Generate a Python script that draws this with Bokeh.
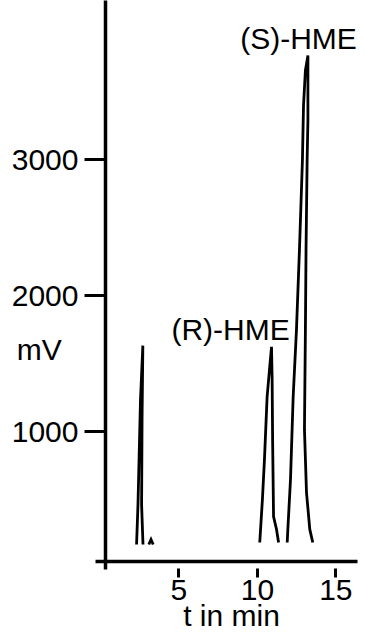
from bokeh.plotting import figure
from bokeh.models import Range1d, FixedTicker, Label, LinearAxis
from bokeh.embed import file_html
from bokeh.resources import INLINE

# Chromatogram traces: retention time (min) and detector signal (mV)
solvent_t = [2.30, 2.39, 2.55, 2.70, 2.65, 2.62, 2.71]
solvent_mv = [168, 462, 1233, 1631, 1086, 462, 168]

blip_t = [3.08, 3.22, 3.36]
blip_mv = [168, 205, 168]

r_hme_t = [10.15, 10.32, 10.45, 10.62, 10.77, 10.90, 10.94, 10.97, 11.03, 11.22, 11.35]
r_hme_mv = [183, 499, 792, 1255, 1453, 1622, 1380, 939, 374, 279, 183]

s_hme_t = [11.90, 11.94, 12.11, 12.28, 12.49, 12.68, 12.87, 12.94, 13.06, 13.22,
           13.22, 13.17, 13.10, 13.06, 13.00, 13.13, 13.34, 13.53]
s_hme_mv = [183, 279, 645, 1255, 1747, 2334, 2995, 3399, 3656, 3766,
            3289, 2995, 2334, 1747, 1013, 550, 279, 183]

x_ticks = [5, 10, 15]
y_ticks = [1000, 2000, 3000]
peak_names = ["(R)-HME", "(S)-HME"]
x_title = "t in min"
y_title = "mV"
y_title_at = 1600

FONT = "Liberation Sans"
SIZE = "30px"

x_lo, x_hi = 0.32, 16.38
y_lo, y_hi = 43, 4170

p = figure(width=366, height=634, output_backend="svg", toolbar_location=None,
           x_range=Range1d(x_lo, x_hi), y_range=Range1d(y_lo, y_hi),
           min_border_left=105, min_border_right=9, min_border_top=0,
           min_border_bottom=72)
p.background_fill_color = "white"
p.border_fill_color = "white"
p.outline_line_color = None
p.grid.visible = False

# time axis: detached ticks, plus a short stub where the signal axis crosses
xa = p.xaxis[0]
xa.ticker = FixedTicker(ticks=x_ticks, minor_ticks=[x_lo + 0.01])
xa.axis_line_width = 3.5
xa.axis_line_color = "black"
xa.major_tick_line_width = 3
xa.major_tick_in = -7
xa.major_tick_out = 16
xa.minor_tick_in = 0
xa.minor_tick_out = 8
xa.minor_tick_line_width = 3.5
xa.major_label_text_font = FONT
xa.major_label_text_font_size = SIZE
xa.major_label_text_color = "black"
xa.major_label_standoff = 2
xa.axis_label = x_title
xa.axis_label_text_font = FONT
xa.axis_label_text_font_size = SIZE
xa.axis_label_text_font_style = "normal"
xa.axis_label_text_color = "black"
xa.axis_label_standoff = -4

# signal axis: line and ticks only
ya = p.yaxis[0]
ya.ticker = FixedTicker(ticks=y_ticks, minor_ticks=[y_lo + 1])
ya.axis_line_width = 3.5
ya.axis_line_color = "black"
ya.major_tick_line_width = 3
ya.major_tick_in = 0
ya.major_tick_out = 21
ya.minor_tick_in = 0
ya.minor_tick_out = 10
ya.minor_tick_line_width = 3.5
ya.major_label_overrides = {v: "" for v in y_ticks}
ya.major_label_text_font_size = "0px"
ya.major_label_standoff = 0

# signal axis labels, including the unit beside the scale
labels_axis = LinearAxis(
    ticker=FixedTicker(ticks=y_ticks + [y_title_at]),
    major_label_overrides={y_title_at: y_title + "\u00a0\u00a0"},
    axis_line_color=None, major_tick_line_color=None, minor_tick_line_color=None,
    major_tick_in=0, major_tick_out=0, minor_tick_in=0, minor_tick_out=0,
    major_label_text_font=FONT, major_label_text_font_size=SIZE,
    major_label_text_color="black", major_label_standoff=6)
p.add_layout(labels_axis, "left")

p.multi_line(xs=[solvent_t, blip_t, r_hme_t, s_hme_t],
             ys=[solvent_mv, blip_mv, r_hme_mv, s_hme_mv],
             line_color="black", line_width=2.8, line_join="miter")

def add_text(x, y, txt):
    p.add_layout(Label(x=x, y=y, text=txt, text_font=FONT, text_font_size=SIZE,
                       text_color="black", text_align="center",
                       text_baseline="alphabetic"))

add_text(8.29, 1747, peak_names[0])
add_text(12.62, 3891, peak_names[1])

open("out.html", "w").write(file_html(p, INLINE))
